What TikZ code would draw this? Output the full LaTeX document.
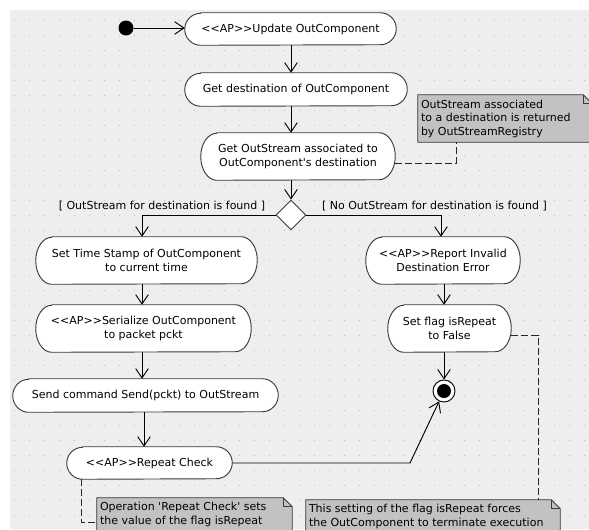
\documentclass[tikz,border=0pt]{standalone}
\usepackage{fontspec}
\newfontfamily\uifont{DejaVu Sans}
\usetikzlibrary{arrows.meta,shapes.geometric}
\pgfdeclarelayer{grid}
\pgfdeclarelayer{shapes}
\pgfsetlayers{grid,shapes,main}

\definecolor{canvasgray}{HTML}{EEEEEE}
\definecolor{gridgray}{HTML}{BDBDBD}
\definecolor{notegray}{HTML}{C2C2C2}
\definecolor{edgegray}{HTML}{3A3A3A}

\tikzset{
  txt/.style={font=\uifont\fontsize{8.25}{10.1}\selectfont, text=black},
  actnode/.style={txt, rectangle, inner sep=0pt, align=center},
  act/.style 2 args={actnode, minimum width=#1*0.75pt, minimum height=#2*0.75pt},
  actline/.style={draw=edgegray, fill=white, line width=0.7pt},
  notebox/.style 2 args={rectangle, inner sep=0pt, minimum width=#1*0.75pt, minimum height=#2*0.75pt},
  noteline/.style={draw=edgegray, fill=notegray, line width=0.7pt, line join=miter},
  notetext/.style={txt, inner sep=0pt, align=left, anchor=north west},
  guard/.style={txt, inner sep=0pt},
  decision/.style={diamond, aspect=1, inner sep=0pt, minimum size=30*0.75pt,
    draw=edgegray, fill=white, line width=0.7pt},
  startdot/.style={circle, inner sep=0pt, minimum size=15*0.75pt, fill=black},
  enddot/.style={circle, inner sep=0pt, minimum size=22*0.75pt, draw=black,
    fill=white, line width=0.7pt,
    path picture={\fill[black] (path picture bounding box.center) circle[radius=5.25pt];}},
  flow/.style={draw=black, line width=0.7pt,
    -{Straight Barb[length=7pt,width=9.5pt,line width=0.7pt]}},
  notelink/.style={draw=black!85, line width=0.75pt, dash pattern=on 5.25pt off 2.25pt}
}

% stadium outline with elliptic ends behind an activity node
\newcommand\actshape[2]{%
  \begin{pgfonlayer}{shapes}
  \path[actline] ([xshift=12pt]#1.north west) -- ([xshift=-12pt]#1.north east)
    arc[start angle=90,end angle=-90,x radius=12pt,y radius=#2*0.375pt]
    -- ([xshift=12pt]#1.south west)
    arc[start angle=270,end angle=90,x radius=12pt,y radius=#2*0.375pt] -- cycle;
  \end{pgfonlayer}}

% note with a folded top right corner
\newcommand\noteshape[1]{%
  \begin{pgfonlayer}{shapes}
  \path[noteline] (#1.north west) -- ([xshift=-6.75pt]#1.north east)
    -- ([yshift=-6.75pt]#1.north east) -- (#1.south east) -- (#1.south west) -- cycle;
  \draw[edgegray, line width=0.7pt] ([xshift=-6.75pt]#1.north east)
    -- ([xshift=-6.75pt,yshift=-6.75pt]#1.north east) -- ([yshift=-6.75pt]#1.north east);
  \end{pgfonlayer}}

\begin{document}
\begin{tikzpicture}[x=0.75pt,y=-0.75pt]
\useasboundingbox (0,0) rectangle (589,529);

% canvas with dotted grid
\begin{pgfonlayer}{grid}
  \fill[white] (0,0) rectangle (589,529);
  \fill[canvasgray] (10,10) rectangle (589,529);
  \foreach \gx in {14,29,...,584}
    \foreach \gy in {20,35,...,515}
      \fill[gridgray] (\gx-0.5,\gy-0.5) rectangle +(1,1);
\end{pgfonlayer}

% activities
\node[startdot] (init) at (126,28) {};
\node[act={211}{32}] (b1) at (290.5,29) {<<AP>>Update OutComponent};
\node[act={222}{33}] (b2) at (296,89.5) {Get destination of OutComponent};
\node[act={194}{47}] (b3) at (298,156.5) {Get OutStream associated to\\OutComponent's destination};
\node[decision] (dec) at (291,215) {};
\node[act={221}{47}] (L1) at (146.5,260.5) {Set Time Stamp of OutComponent\\to current time};
\node[act={215}{47}] (L2) at (143.5,328.5) {<<AP>>Serialize OutComponent\\to packet pckt};
\node[act={265}{33}] (L3) at (145.5,395.5) {Send command Send(pckt) to OutStream};
\node[act={165}{32}] (L4) at (149.5,463) {<<AP>>Repeat Check};
\node[act={154}{47}] (R1) at (443,260.5) {<<AP>>Report Invalid\\Destination Error};
\node[act={123}{47}] (R2) at (449.5,328.5) {Set flag isRepeat\\to False};
\node[enddot] (final) at (444,391) {};

\actshape{b1}{32}
\actshape{b2}{33}
\actshape{b3}{47}
\actshape{L1}{47}
\actshape{L2}{47}
\actshape{L3}{33}
\actshape{L4}{32}
\actshape{R1}{47}
\actshape{R2}{47}

% guards
\node[guard] (g1) at (162,206) {[ OutStream for destination is found ]};
\node[guard] (g2) at (434.5,206) {[ No OutStream for destination is found ]};

% notes
\node[notebox={174}{47}] (n1) at (505,118.5) {};
\node[notebox={195}{34}] (n2) at (194.5,515) {};
\node[notebox={254}{34}] (n3) at (433,517) {};
\noteshape{n1}
\noteshape{n2}
\noteshape{n3}
\node[notetext] (n1t) at ([xshift=2.25pt,yshift=-3.6pt]n1.north west)
  {OutStream associated\\to a destination is returned\\by OutStreamRegistry};
\node[notetext] (n2t) at ([xshift=2.25pt,yshift=-3.4pt]n2.north west)
  {Operation 'Repeat Check' sets\\the value of the flag isRepeat};
\node[notetext] (n3t) at ([xshift=2.25pt,yshift=-3.4pt]n3.north west)
  {This setting of the flag isRepeat forces\\the OutComponent to terminate execution};

% control flow
\coordinate (spine) at (291,0);
\coordinate (colL) at (142,0);
\coordinate (colL2) at (144,0);
\coordinate (colR) at (441,0);
\coordinate (bend) at (410,0);
\draw[flow] (init) -- (b1.west |- init);
\draw[flow] (b1.south -| spine) -- (b2.north -| spine);
\draw[flow] (b2.south -| spine) -- (b3.north -| spine);
\draw[flow] (b3.south -| spine) -- (dec.north);
\draw[flow] (dec.west) -| (L1.north -| colL);
\draw[flow] (dec.east) -| (R1.north -| colR);
\draw[flow] (L1.south -| colL) -- (L2.north -| colL);
\draw[flow] (L2.south -| colL) -- (L3.north -| colL);
\draw[flow] (L3.south -| colL2) -- (L4.north -| colL2);
\draw[flow] (R1.south -| final) -- (R2.north -| final);
\draw[flow] (R2.south -| final) -- (final);
\draw[flow] (L4.east) -- (L4.east -| bend) -- (final);

% note anchors
\coordinate (k1) at (456,163);
\coordinate (k2) at (538,335);
\coordinate (k3) at (81,522);
\draw[notelink] (b3.east |- k1) -- (k1) -- (k1 |- n1.south);
\draw[notelink] (R2.east |- k2) -- (k2) -- (k2 |- n3.north);
\draw[notelink] (L4.south -| k3) -- (k3) -- (k3 -| n2.west);
\end{tikzpicture}
\end{document}
